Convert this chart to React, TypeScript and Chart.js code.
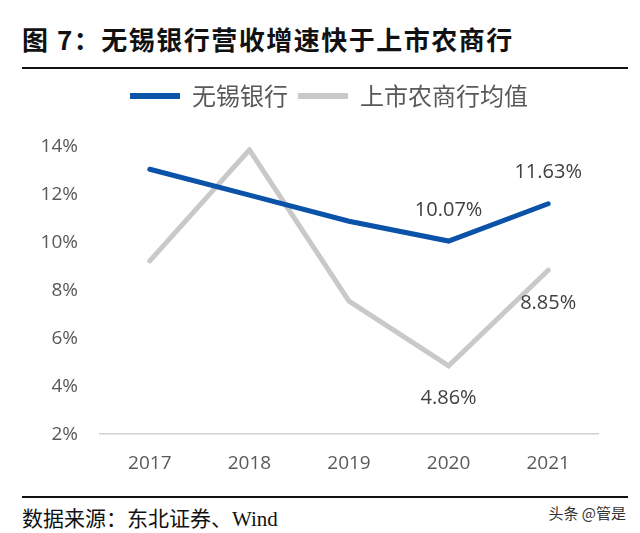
import React, { useEffect, useRef } from "react";
import { Chart, registerables } from "chart.js";

Chart.register(...registerables);

const categories = ["2017", "2018", "2019", "2020", "2021"];
const wuxiBank = [13.07, 11.99, 10.9, 10.07, 11.63];
const ruralAvg = [9.24, 13.88, 7.56, 4.86, 8.85];
const seriesNames = ["无锡银行", "上市农商行均值"];
const yTicks = { min: 2, max: 14, step: 2 };
// data labels shown on chart: [datasetIndex, pointIndex, text, above?]
const dataLabels: [number, number, string, boolean][] = [
  [0, 3, "10.07%", true],
  [0, 4, "11.63%", true],
  [1, 3, "4.86%", false],
  [1, 4, "8.85%", false],
];

const BLUE = "#0B53A8";
const GRAY = "#C9C9C9";
const TICK_FONT = "'Open Sans', 'Noto Sans', sans-serif";
const CJK = "'Noto Sans CJK SC', 'Noto Sans', sans-serif";

export default function App() {
  const ref = useRef<HTMLCanvasElement | null>(null);

  useEffect(() => {
    if (!ref.current) return;
    const labelPlugin = {
      id: "pointLabels",
      afterDatasetsDraw(chart: any) {
        const ctx = chart.ctx;
        ctx.save();
        ctx.font = `20px ${TICK_FONT}`;
        ctx.fillStyle = "#404040";
        ctx.textAlign = "center";
        ctx.textBaseline = "middle";
        dataLabels.forEach(([ds, i, text, above]) => {
          const pt = chart.getDatasetMeta(ds).data[i];
          if (!pt) return;
          ctx.fillText(text, pt.x, pt.y + (above ? -31 : 33));
        });
        ctx.restore();
      },
    };
    const legendSpace = {
      id: "legendSpace",
      afterInit(chart: any) {
        const lg = chart.legend;
        if (!lg) return;
        const fit = lg.fit;
        lg.fit = function () {
          fit.call(this);
          this.height += 29;
        };
      },
      afterLayout(chart: any) {
        if (chart.legend) chart.legend.left = 60;
      },
    };
    const chart = new Chart(ref.current, {
      type: "line",
      data: {
        labels: categories,
        datasets: [
          {
            label: seriesNames[0],
            data: wuxiBank,
            borderColor: BLUE,
            backgroundColor: BLUE,
            borderWidth: 5,
            pointRadius: 0,
            tension: 0,
            borderCapStyle: "round",
          },
          {
            label: seriesNames[1],
            data: ruralAvg,
            borderColor: GRAY,
            backgroundColor: GRAY,
            borderWidth: 5,
            pointRadius: 0,
            tension: 0,
            borderCapStyle: "round",
          },
        ],
      },
      options: {
        animation: false,
        responsive: false,
        devicePixelRatio: 1,
        layout: { padding: { left: 0, right: 42, top: 0, bottom: 0 } },
        plugins: {
          tooltip: { enabled: false },
          legend: {
            display: true,
            position: "top",
            labels: {
              boxWidth: 50,
              boxHeight: 6,
              padding: 10,
              color: "#595959",
              font: { size: 24, family: CJK },
              generateLabels: (c: any) =>
                Chart.defaults.plugins.legend.labels
                  .generateLabels(c)
                  .map((l: any) => ({ ...l, lineWidth: 0 })),
            },
          },
        },
        scales: {
          x: {
            type: "category",
            offset: true,
            grid: { display: false, drawTicks: false },
            border: { display: true, color: "#D0D0D0", width: 1.5 },
            ticks: {
              color: "#595959",
              padding: 18,
              font: { size: 19, family: TICK_FONT },
            },
          },
          y: {
            min: yTicks.min,
            max: yTicks.max,
            grid: { display: false, drawTicks: false },
            border: { display: false },
            afterFit: (s: any) => {
              s.width = 100;
            },
            ticks: {
              stepSize: yTicks.step,
              padding: 22,
              color: "#595959",
              font: { size: 19, family: TICK_FONT },
              callback: (v: any) => `${v}%`,
            },
          },
        },
      },
      plugins: [labelPlugin, legendSpace],
    } as any);
    return () => chart.destroy();
  }, []);

  return (
    <div
      style={{
        position: "absolute",
        left: 0,
        top: 0,
        width: 640,
        height: 533,
        background: "#ffffff",
        overflow: "hidden",
      }}
    >
      <div
        style={{
          position: "absolute",
          left: 22,
          top: 21,
          fontFamily: CJK,
          fontWeight: 700,
          fontSize: 26,
          lineHeight: "36px",
          letterSpacing: 1.5,
          color: "#111",
          whiteSpace: "nowrap",
        }}
      >
        图 7：无锡银行营收增速快于上市农商行
      </div>
      <div
        style={{
          position: "absolute",
          left: 22,
          top: 67,
          width: 606,
          height: 2,
          background: "#111",
        }}
      />
      <canvas
        ref={ref}
        width={640}
        height={419}
        style={{ position: "absolute", left: 0, top: 74, width: 640, height: 419 }}
      />
      <div
        style={{
          position: "absolute",
          left: 22,
          top: 496,
          width: 606,
          height: 2,
          background: "#111",
        }}
      />
      <div
        style={{
          position: "absolute",
          left: 22,
          top: 505,
          fontFamily: "'Liberation Serif', 'Noto Sans CJK SC', serif",
          fontSize: 21,
          lineHeight: "28px",
          color: "#111",
          whiteSpace: "nowrap",
        }}
      >
        数据来源：东北证券、Wind
      </div>
      <div
        style={{
          position: "absolute",
          right: 14,
          top: 502,
          fontFamily: CJK,
          fontSize: 15,
          lineHeight: "22px",
          color: "#333",
          whiteSpace: "nowrap",
        }}
      >
        头条 @管是
      </div>
    </div>
  );
}
